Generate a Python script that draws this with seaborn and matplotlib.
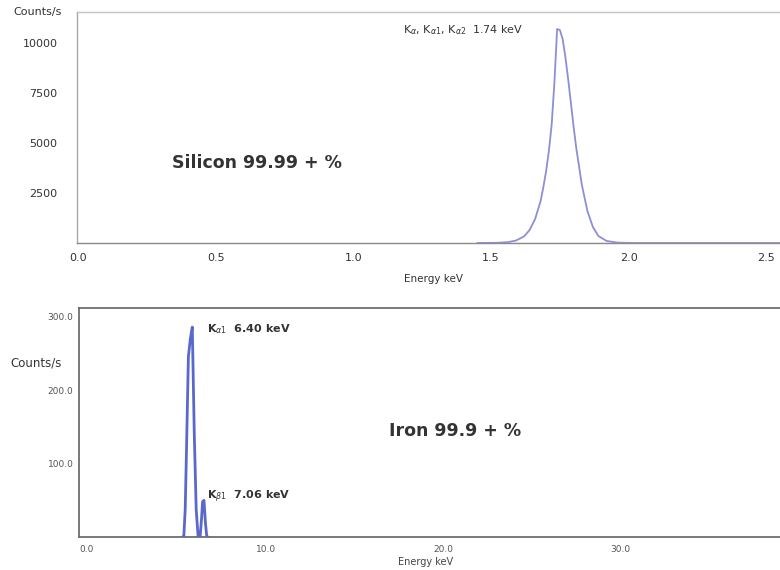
import matplotlib
matplotlib.use("Agg")
import matplotlib.pyplot as plt
import numpy as np
import pandas as pd
import seaborn as sns

# Silicon spectrum (energy in keV, counts per second)
si_energy = [1.45, 1.52, 1.56, 1.59, 1.62, 1.64, 1.66, 1.68, 1.69, 1.70, 1.71, 1.72,
             1.73, 1.74, 1.75, 1.76, 1.77, 1.78, 1.79, 1.80, 1.81, 1.83, 1.85, 1.87,
             1.89, 1.92, 1.96, 2.02, 2.60]
si_counts = [0, 10, 40, 120, 330, 650, 1200, 2100, 2800, 3600, 4600, 5900,
             8000, 10700, 10650, 10200, 9300, 8200, 7000, 5800, 4700, 2900, 1600, 800,
             350, 100, 20, 0, 0]

# Iron spectrum (energy in keV, counts per second)
fe_energy = [5.85, 5.92, 6.00, 6.07, 6.18, 6.29, 6.40, 6.51, 6.62, 6.73, 6.84,
             6.92, 6.98, 7.06, 7.14, 7.22, 7.30]
fe_counts = [0, 0, 38, 116, 246, 270, 286, 143, 38, 0, 0,
             24, 48, 50, 20, 0, 0]

si_xticks = [0.0, 0.5, 1.0, 1.5, 2.0, 2.5]
si_yticks = [2500, 5000, 7500, 10000]
fe_xticks = [0.0, 10.0, 20.0, 30.0]
fe_yticks = [100.0, 200.0, 300.0]

si_peak_label = r"K$_{\alpha}$, K$_{\alpha1}$, K$_{\alpha2}$  1.74 keV"
fe_peak_labels = [r"K$_{\alpha1}$  6.40 keV", r"K$_{\beta1}$  7.06 keV"]

si_df = pd.DataFrame({"energy": si_energy, "counts": si_counts})
fe_df = pd.DataFrame({"energy": fe_energy, "counts": fe_counts})

sns.set_theme(style="white")
plt.rcParams["font.family"] = ["DejaVu Sans"]

TXT = "#333333"
fig = plt.figure(figsize=(7.8, 5.7), dpi=100)

# ---- upper panel: silicon ----
ax1 = fig.add_axes([77 / 780, 1 - 243 / 570, 703 / 780, 231 / 570])
ax1.plot([1.58, 2.0], [0, 0], color="#e8a0a0", lw=0.9, zorder=4)
sns.lineplot(data=si_df, x="energy", y="counts", ax=ax1, color="#8e8ed4",
             lw=1.3, zorder=3, estimator=None, sort=False)
ax1.set_xlim(-0.005, 2.55)
ax1.set_ylim(0, 11550)
ax1.set_xticks(si_xticks)
ax1.set_xticklabels([f"{v:.1f}" for v in si_xticks], fontsize=8, color=TXT)
ax1.set_yticks(si_yticks)
ax1.set_yticklabels([str(v) for v in si_yticks], fontsize=8, color=TXT)
ax1.tick_params(axis="y", direction="out", length=2, width=0.6, color="#aaaaaa", pad=12)
ax1.tick_params(axis="x", length=0, pad=7)
ax1.set_xlabel("")
ax1.set_ylabel("")
ax1.spines["right"].set_visible(False)
ax1.spines["top"].set_color("#c4c4c4")
ax1.spines["left"].set_color("#a8a8a8")
ax1.spines["bottom"].set_color("#8a8a8a")
ax1.spines["bottom"].set_linestyle((0, (2, 1)))
for s in ax1.spines.values():
    s.set_linewidth(1.0)
fig.text(13 / 780, 1 - 12 / 570, "Counts/s", fontsize=8, color=TXT, va="center", ha="left")
fig.text(433 / 780, 1 - 279 / 570, "Energy keV", fontsize=7.5, color=TXT, va="center", ha="center")
ax1.text(0.342, 4000, "Silicon 99.99 + %", fontsize=12.5, fontweight="bold", color=TXT,
         va="center", ha="left")
ax1.text(1.18, 10650, si_peak_label, fontsize=8, color=TXT, va="center", ha="left")

# ---- lower panel: iron ----
ax2 = fig.add_axes([79 / 780, 1 - 537 / 570, 701 / 780, 229 / 570])
sns.lineplot(data=fe_df, x="energy", y="counts", ax=ax2, color="#5a68cc",
             lw=2.0, zorder=3, estimator=None, sort=False)
ax2.set_xlim(0, 39.6)
ax2.set_ylim(0, 312)
ax2.set_xticks(fe_xticks)
ax2.set_xticklabels([f"{v:.1f}" for v in fe_xticks], fontsize=6.5, color="#555555", ha="left")
ax2.set_yticks(fe_yticks)
ax2.set_yticklabels([f"{v:.1f}" for v in fe_yticks], fontsize=6.5, color="#555555")
ax2.tick_params(axis="x", direction="in", length=3, width=1.0, color="#666666", pad=6)
ax2.tick_params(axis="y", direction="out", length=3, width=0.8, color="#888888", pad=1)
ax2.set_xlabel("")
ax2.set_ylabel("")
ax2.spines["right"].set_visible(False)
for side in ["top", "left", "bottom"]:
    ax2.spines[side].set_color("#6e6e6e")
    ax2.spines[side].set_linewidth(1.3)
fig.text(10 / 780, 1 - 363 / 570, "Counts/s", fontsize=8.5, color=TXT, va="center", ha="left")
fig.text(426 / 780, 1 - 562 / 570, "Energy keV", fontsize=7, color="#444444", va="center", ha="center")
ax2.text(17.5, 145, "Iron 99.9 + %", fontsize=12.5, fontweight="bold", color=TXT,
         va="center", ha="left")
ax2.text(7.25, 283, fe_peak_labels[0], fontsize=8, fontweight="bold", color=TXT, va="center", ha="left")
ax2.text(7.25, 55, fe_peak_labels[1], fontsize=8, fontweight="bold", color=TXT, va="center", ha="left")

fig.savefig("out.png", dpi=100, facecolor="white")
